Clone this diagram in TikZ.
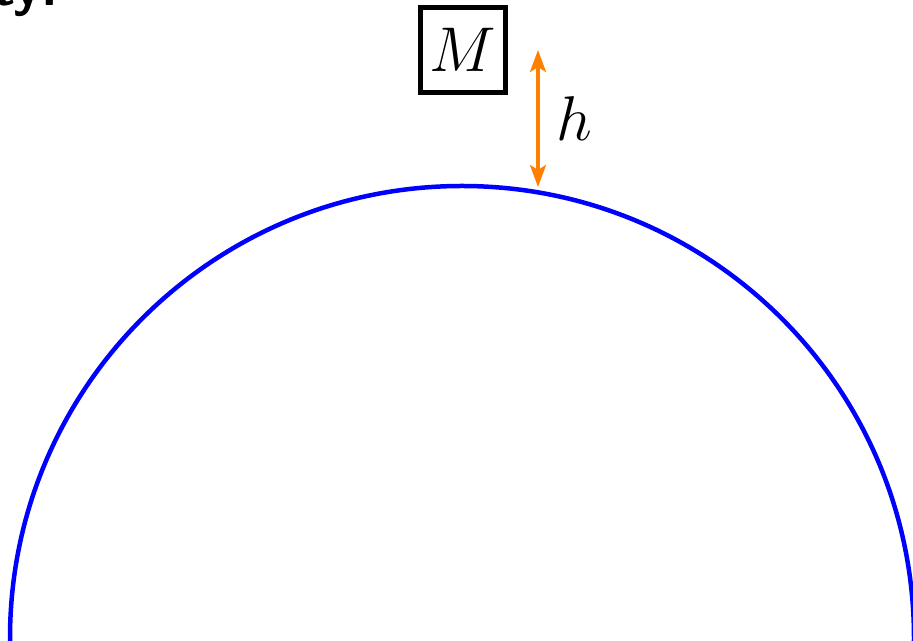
\RequirePackage{fix-cm}
\documentclass[tikz,border=0pt]{standalone}
\usepackage{tikz}
\usepackage{xcolor}
\usetikzlibrary{arrows.meta,positioning,calc}
\definecolor{Ink}{HTML}{000000}
\definecolor{Surface}{HTML}{0000FF}
\definecolor{Lift}{HTML}{FF8000}

\begin{document}
\begin{tikzpicture}[x=0.02cm,y=0.02cm,every node/.style={font=\fontsize{36}{44}\selectfont}]
  \clip (0,0) rectangle (913,641);
  \node[anchor=base east,font=\fontsize{31}{37}\selectfont\sffamily\bfseries] (title) at (64,635) {ty:};
  \draw[line width=0.09cm,Surface] (462,3) circle[radius=452];
  \node[draw=Ink,line width=0.1cm,minimum size=1.7cm,inner sep=0pt] (mass) at (463,591) {$M$};
  \coordinate (htop) at (538,591);
  \coordinate (hbot) at (538,454);
  \draw[{Stealth[length=0.44cm,width=0.32cm,inset=0.1cm]}-{Stealth[length=0.44cm,width=0.32cm,inset=0.1cm]},line width=0.07cm,Lift] (htop) -- (hbot);
  \node[right=0.25cm of $(htop)!0.5!(hbot)$] (hlabel) {$h$};
\end{tikzpicture}
\end{document}
